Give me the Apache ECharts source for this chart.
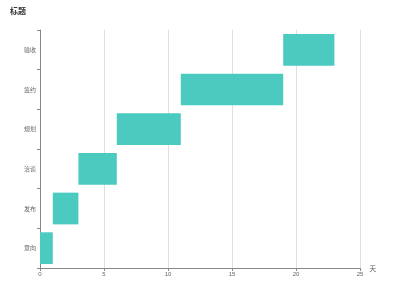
<!DOCTYPE html>
<html><head><meta charset="utf-8">
<script src="https://cdn.jsdelivr.net/npm/echarts@6/dist/echarts.min.js"></script>
<style>html,body{margin:0;padding:0;background:#fff}#c{width:400px;height:300px}</style>
</head><body><div id="c"></div>
<script>
const categories = ['意向', '发布', '洽谈', '规划', '签约', '验收'];
const startDays = [0, 1, 3, 6, 11, 19];
const durations = [1, 2, 3, 5, 8, 4];
const xTicks = [0, 5, 10, 15, 20, 25];

const chart = echarts.init(document.getElementById('c'), null, {renderer: 'canvas'});
chart.setOption({
  animation: false,
  title: {text: '标题', left: 5, top: 2, textStyle: {fontSize: 8, fontWeight: 'bold', color: '#333', fontFamily: 'Noto Sans CJK SC'}},
  grid: {left: 40, right: 40, top: 30, bottom: 32, containLabel: false},
  xAxis: {
    type: 'value', min: xTicks[0], max: xTicks[xTicks.length - 1], interval: 5,
    name: '天', nameGap: 6,
    nameTextStyle: {fontSize: 7, color: '#666', fontFamily: 'Noto Sans CJK SC'},
    axisLine: {show: true, lineStyle: {color: '#888'}},
    axisTick: {show: true, length: 3, lineStyle: {color: '#888'}},
    axisLabel: {fontSize: 6, color: '#666', margin: 3},
    splitLine: {show: true, lineStyle: {color: '#e0e0e0'}}
  },
  yAxis: {
    type: 'category', data: categories,
    axisLine: {show: true, lineStyle: {color: '#888'}},
    axisTick: {show: true, length: 3, lineStyle: {color: '#888'}},
    axisLabel: {fontSize: 6, color: '#666', margin: 4, fontFamily: 'Noto Sans CJK SC'},
    splitLine: {show: false}
  },
  series: [
    {type: 'bar', stack: 'g', data: startDays, itemStyle: {color: 'transparent'}, silent: true, barCategoryGap: '20%'},
    {type: 'bar', stack: 'g', data: durations, itemStyle: {color: '#4bcbc0'}, barCategoryGap: '20%'}
  ]
});
</script></body></html>
